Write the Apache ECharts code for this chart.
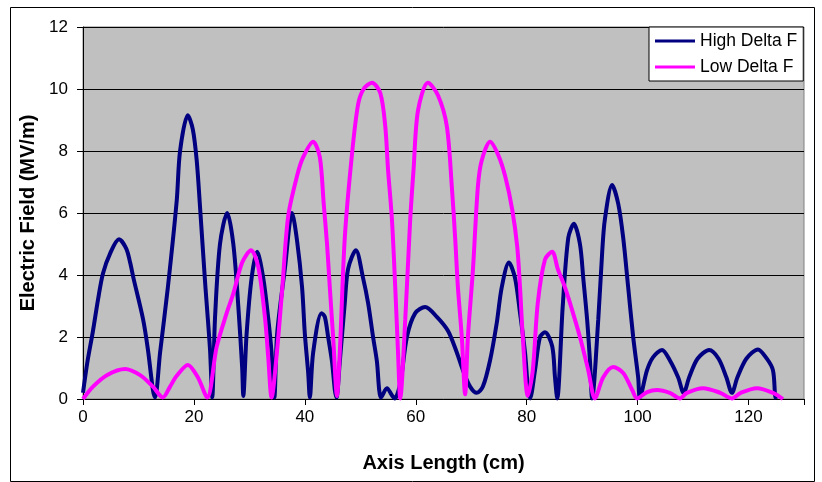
<!DOCTYPE html>
<html>
<head>
<meta charset="utf-8">
<script src="https://cdn.jsdelivr.net/npm/echarts@6/dist/echarts.min.js"></script>
<style>html,body{margin:0;padding:0;background:#fff}#c{width:822px;height:482px}</style>
</head>
<body>
<div id="c"></div>
<script>
const seriesNames = ['High Delta F', 'Low Delta F'];
const xTicks = [0, 20, 40, 60, 80, 100, 120];
const yTicks = [0, 2, 4, 6, 8, 10, 12];

const highX = [0,0.8,1.8,2.7,3.6,4.9,6.5,7.8,8.5,9.1,10.8,11.7,12.6,13.0,13.9,15.3,16.9,17.5,18.9,19.8,20.5,21.1,22.0,22.9,23.3,23.8,24.7,26.0,27.1,28.0,28.7,28.9,29.5,30.4,31.4,32.5,33.4,34.0,34.5,35.0,36.4,37.7,38.6,39.5,40.0,40.6,40.9,41.5,43.0,43.6,44.2,44.9,45.4,45.7,46.3,47.2,47.8,49.2,50.5,51.4,52.3,53.0,53.4,53.7,54.8,55.7,56.2,57.2,58.4,59.9,61.7,63.8,65.8,67.4,68.5,69.8,71.0,72.1,73.4,74.6,75.5,76.8,77.9,78.8,79.7,80.2,80.6,81.5,82.4,83.3,84.6,85.1,85.5,86.5,87.5,88.5,89.6,90.2,90.9,91.4,91.8,92.9,93.6,94.1,95.4,96.5,97.4,98.3,99.2,100.1,100.4,101.7,102.8,104.4,105.8,107.3,108.3,109.3,110.8,112.9,114.6,116.0,117.0,118.0,119.6,121.7,123.3,124.4,124.8,125.0];
const highY = [0.2,1.2,2.2,3.2,4.05,4.7,5.15,4.85,4.4,3.9,2.6,1.6,0.3,0.05,1.5,3.6,6.4,8.0,9.15,8.7,7.7,6.2,3.8,1.6,0.05,2.6,5.0,6.0,5.0,3.0,1.0,0.1,2.1,3.9,4.75,3.9,2.6,1.5,0.05,2.1,4.2,6.0,5.1,3.6,2.1,0.85,0.05,1.5,2.77,2.65,2.0,1.2,0.3,0.05,1.2,3.1,4.2,4.8,3.9,3.1,2.0,1.2,0.3,0.05,0.35,0.12,0.02,0.5,2.0,2.77,2.97,2.65,2.2,1.5,0.93,0.4,0.2,0.4,1.25,2.45,3.6,4.4,3.9,2.77,1.5,0.4,0.02,0.93,2.0,2.15,1.7,0.7,0.02,3.0,5.2,5.65,5.0,3.9,2.55,1.25,0.02,2.55,4.7,5.8,6.9,6.3,5.2,3.6,2.0,0.7,0.05,0.93,1.35,1.58,1.25,0.7,0.2,0.7,1.3,1.58,1.3,0.7,0.2,0.7,1.3,1.6,1.3,0.93,0.1,0];

const lowX = [0,1.8,4.3,7.6,10.3,12.6,14.4,15.7,16.9,18.9,20.7,22.4,24.1,25.9,27.1,28.7,30.3,31.6,32.8,33.4,34.0,35.0,35.9,37.0,38.6,39.7,41.5,42.7,43.4,44.0,44.5,45.1,45.8,46.3,47.2,48.5,49.6,50.6,52.1,53.6,54.5,55.0,55.7,56.3,56.8,57.2,58.1,59.0,59.6,60.4,62.2,64.0,65.6,66.5,67.1,67.6,68.3,68.9,69.4,70.3,71.2,71.9,73.4,74.8,76.1,77.4,78.3,78.8,79.3,80.2,81.1,82.0,83.3,84.6,85.6,86.9,87.8,89.6,91.1,92.3,93.8,95.6,97.4,99.0,99.9,101.7,103.5,105.8,107.6,108.9,111.8,114.9,117.0,118.6,121.5,124.4,126.2];
const lowY = [0,0.4,0.77,0.97,0.77,0.4,0.05,0.4,0.75,1.1,0.7,0.05,1.68,2.77,3.4,4.4,4.8,4.26,2.65,1.35,0.05,1.58,3.5,5.9,7.2,7.8,8.3,7.8,6.3,5.0,3.6,2.0,0.1,1.5,5.2,7.9,9.5,10.0,10.2,9.87,8.8,7.4,5.8,3.6,1.5,0.02,2.55,5.8,7.4,9.3,10.2,9.8,8.8,6.85,5.2,3.6,2.0,0.15,2.0,4.15,6.85,7.7,8.3,7.9,7.2,6.1,4.9,3.6,2.0,0.1,0.93,3.1,4.5,4.75,4.2,3.6,3.1,2.0,0.93,0.02,0.7,1.03,0.84,0.3,0.02,0.22,0.29,0.2,0.02,0.2,0.35,0.2,0.02,0.2,0.35,0.2,0];

const zip = (xs, ys) => xs.map((x, i) => [x, ys[i]]);
const FONT = '"Liberation Sans", Arial, sans-serif';

const chart = echarts.init(document.getElementById('c'), null, {renderer: 'canvas'});
chart.setOption({
  animation: false,
  backgroundColor: '#ffffff',
  graphic: [{
    type: 'rect', left: 8, top: 5, shape: {width: 804, height: 474},
    style: {fill: 'none', stroke: '#000', lineWidth: 1}, silent: true, z: 0
  }],
  grid: {
    left: 83, top: 27, right: 18, bottom: 83,
    show: true, backgroundColor: '#c0c0c0', borderColor: '#808080', borderWidth: 1
  },
  legend: {
    orient: 'vertical', left: 649, top: 27,
    backgroundColor: '#ffffff', borderColor: '#000', borderWidth: 1,
    padding: [5, 6, 5, 6], itemGap: 8, itemWidth: 40, itemHeight: 3, itemTextGap: 3,
    icon: 'rect',
    textStyle: {fontFamily: FONT, fontSize: 17.5, color: '#000'},
    data: seriesNames
  },
  xAxis: {
    type: 'value', min: 0, max: 130, interval: 20,
    name: 'Axis Length (cm)', nameLocation: 'middle', nameGap: 54,
    nameTextStyle: {fontFamily: FONT, fontSize: 20, fontWeight: 'bold', color: '#000'},
    axisLine: {show: true, lineStyle: {color: '#000', width: 1}},
    axisTick: {show: true, inside: false, length: 6, lineStyle: {color: '#000'}},
    axisLabel: {fontFamily: FONT, fontSize: 17, color: '#000', margin: 10,
      formatter: v => xTicks.includes(v) ? String(v) : ''},
    splitLine: {show: false}
  },
  yAxis: {
    type: 'value', min: 0, max: 12, interval: 2,
    name: 'Electric Field (MV/m)', nameLocation: 'middle', nameGap: 37,
    nameTextStyle: {fontFamily: FONT, fontSize: 20, fontWeight: 'bold', color: '#000'},
    axisLine: {show: true, lineStyle: {color: '#000', width: 1}},
    axisTick: {show: true, inside: false, length: 6, lineStyle: {color: '#000'}},
    axisLabel: {fontFamily: FONT, fontSize: 17, color: '#000', margin: 15,
      formatter: v => yTicks.includes(v) ? String(v) : ''},
    splitLine: {show: true, lineStyle: {color: '#000', width: 1}}
  },
  series: [
    {name: seriesNames[0], type: 'line', data: zip(highX, highY), showSymbol: false, smooth: 0.3,
     lineStyle: {color: '#000080', width: 4}, itemStyle: {color: '#000080'}},
    {name: seriesNames[1], type: 'line', data: zip(lowX, lowY), showSymbol: false, smooth: 0.3,
     lineStyle: {color: '#ff00ff', width: 4}, itemStyle: {color: '#ff00ff'}}
  ]
});
</script>
</body>
</html>
